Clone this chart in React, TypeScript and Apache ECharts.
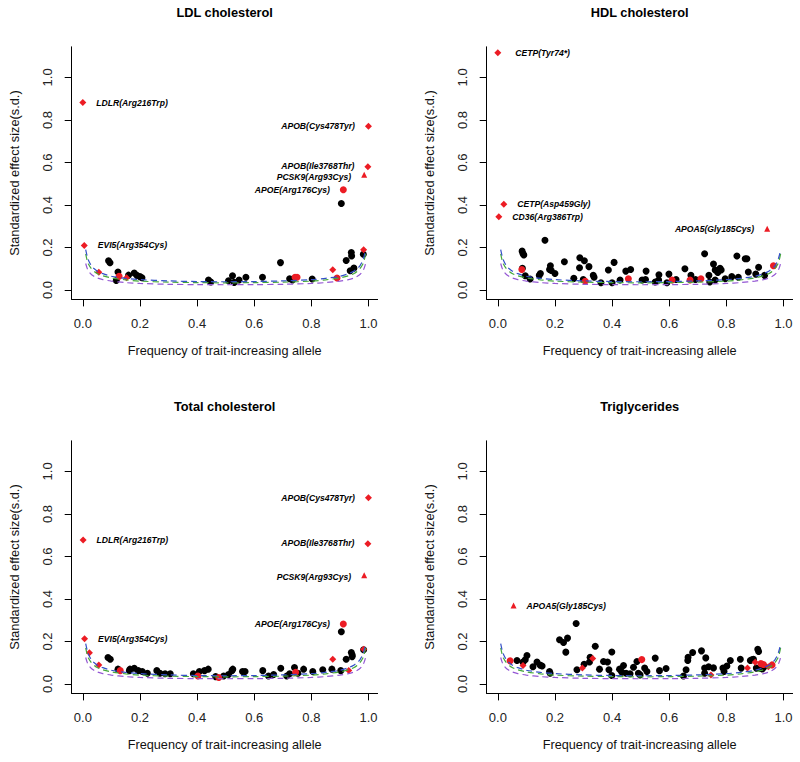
import React, { useEffect, useRef } from "react";
import * as echarts from "echarts";

const FONT = '"Liberation Sans", Arial, Helvetica, sans-serif';
const RED = "#ec1c24";

const PANEL_TITLES = ["LDL cholesterol", "HDL cholesterol", "Total cholesterol", "Triglycerides"];
const X_TITLE = "Frequency of trait-increasing allele";
const Y_TITLE = "Standardized effect size(s.d.)";
const X_TICKS = [0, 0.2, 0.4, 0.6, 0.8, 1.0];
const Y_TICKS = [0, 0.2, 0.4, 0.6, 0.8, 1.0];

// Power curves (dashed)
const CURVE_P = [0.01, 0.015, 0.02, 0.03, 0.04, 0.05, 0.07, 0.1, 0.15, 0.2, 0.3, 0.4, 0.5, 0.6, 0.7, 0.8, 0.85, 0.9, 0.93, 0.95, 0.96, 0.97, 0.98, 0.985, 0.99];
const CURVE_BLUE = [0.19, 0.16, 0.139, 0.114, 0.1, 0.09, 0.077, 0.065, 0.055, 0.049, 0.043, 0.04, 0.039, 0.04, 0.043, 0.049, 0.055, 0.065, 0.077, 0.09, 0.1, 0.114, 0.139, 0.16, 0.19];
const CURVE_GREEN = [0.17, 0.14, 0.121, 0.1, 0.087, 0.078, 0.067, 0.057, 0.048, 0.042, 0.037, 0.035, 0.034, 0.035, 0.037, 0.042, 0.048, 0.057, 0.067, 0.078, 0.087, 0.1, 0.121, 0.14, 0.17];
const CURVE_PURPLE = [0.125, 0.103, 0.089, 0.073, 0.064, 0.057, 0.049, 0.042, 0.035, 0.031, 0.027, 0.0255, 0.025, 0.0255, 0.027, 0.031, 0.035, 0.042, 0.049, 0.057, 0.064, 0.073, 0.089, 0.103, 0.125];

// ---- LDL cholesterol ----
const LDL_BLACK = [
  [0.09, 0.138], [0.095, 0.128], [0.117, 0.045], [0.123, 0.085], [0.16, 0.07], [0.18, 0.08], [0.189, 0.069],
  [0.2, 0.063], [0.207, 0.058], [0.44, 0.047], [0.448, 0.038], [0.51, 0.044], [0.524, 0.067], [0.53, 0.036],
  [0.547, 0.047], [0.571, 0.06], [0.629, 0.06], [0.692, 0.129], [0.724, 0.053], [0.734, 0.047], [0.803, 0.052],
  [0.905, 0.407], [0.922, 0.139], [0.936, 0.091], [0.94, 0.176], [0.941, 0.16], [0.949, 0.103], [0.982, 0.168],
];
const LDL_RED_DIAMOND = [
  [0.0, 0.882, "LDLR(Arg216Trp)"], [1.0, 0.77, "APOB(Cys478Tyr)"], [0.998, 0.58, "APOB(Ile3768Thr)"],
  [0.005, 0.21, "EVI5(Arg354Cys)"], [0.056, 0.084], [0.153, 0.058], [0.875, 0.096], [0.983, 0.19],
];
const LDL_RED_CIRCLE = [[0.912, 0.472, "APOE(Arg176Cys)"], [0.127, 0.065], [0.743, 0.06], [0.75, 0.06], [0.89, 0.057]];
const LDL_RED_TRIANGLE = [[0.985, 0.542, "PCSK9(Arg93Cys)"]];

// ---- HDL cholesterol ----
const HDL_BLACK = [
  [0.085, 0.183], [0.088, 0.172], [0.091, 0.165], [0.086, 0.102], [0.096, 0.067], [0.113, 0.052], [0.145, 0.069],
  [0.149, 0.078], [0.165, 0.234], [0.181, 0.097], [0.184, 0.114], [0.187, 0.092], [0.2, 0.078], [0.233, 0.133],
  [0.266, 0.055], [0.287, 0.152], [0.286, 0.105], [0.303, 0.138], [0.299, 0.05], [0.319, 0.11], [0.334, 0.069],
  [0.337, 0.06], [0.361, 0.034], [0.387, 0.094], [0.4, 0.034], [0.407, 0.13], [0.428, 0.047], [0.448, 0.089],
  [0.465, 0.097], [0.505, 0.047], [0.519, 0.089], [0.517, 0.05], [0.551, 0.038], [0.564, 0.072], [0.563, 0.047],
  [0.592, 0.034], [0.599, 0.075], [0.624, 0.05], [0.655, 0.1], [0.676, 0.069], [0.692, 0.05], [0.724, 0.171],
  [0.739, 0.069], [0.742, 0.038], [0.755, 0.122], [0.761, 0.094], [0.761, 0.047], [0.77, 0.083], [0.778, 0.102],
  [0.782, 0.094], [0.796, 0.053], [0.819, 0.063], [0.837, 0.16], [0.842, 0.06], [0.866, 0.147], [0.872, 0.147],
  [0.877, 0.085], [0.903, 0.075], [0.913, 0.107], [0.934, 0.069],
];
const HDL_RED_DIAMOND = [[0.0, 1.116, "CETP(Tyr74*)"], [0.021, 0.404, "CETP(Asp459Gly)"], [0.0035, 0.345, "CD36(Arg386Trp)"]];
const HDL_RED_CIRCLE = [[0.084, 0.097], [0.306, 0.041], [0.457, 0.053], [0.61, 0.047], [0.673, 0.047], [0.711, 0.053], [0.965, 0.114]];
const HDL_RED_TRIANGLE = [[0.943, 0.288, "APOA5(Gly185Cys)"]];

// ---- Total cholesterol ----
const TC_BLACK = [
  [0.088, 0.125], [0.096, 0.117], [0.123, 0.07], [0.163, 0.063], [0.165, 0.07], [0.18, 0.074], [0.194, 0.063],
  [0.208, 0.059], [0.226, 0.051], [0.259, 0.063], [0.27, 0.051], [0.288, 0.048], [0.306, 0.048], [0.387, 0.048],
  [0.408, 0.059], [0.426, 0.063], [0.439, 0.07], [0.465, 0.035], [0.493, 0.038], [0.51, 0.045], [0.522, 0.063],
  [0.525, 0.07], [0.559, 0.059], [0.568, 0.059], [0.63, 0.063], [0.65, 0.038], [0.668, 0.045], [0.693, 0.074],
  [0.714, 0.038], [0.724, 0.048], [0.741, 0.078], [0.753, 0.051], [0.773, 0.07], [0.805, 0.059], [0.84, 0.067],
  [0.872, 0.07], [0.903, 0.063], [0.905, 0.246], [0.922, 0.117], [0.94, 0.148], [0.943, 0.137], [0.943, 0.129],
  [0.983, 0.161],
];
const TC_RED_DIAMOND = [
  [1.0, 0.876, "APOB(Cys478Tyr)"], [0.001, 0.677, "LDLR(Arg216Trp)"], [0.998, 0.66, "APOB(Ile3768Thr)"],
  [0.006, 0.213, "EVI5(Arg354Cys)"], [0.023, 0.147], [0.056, 0.089], [0.875, 0.117], [0.931, 0.064], [0.983, 0.164],
];
const TC_RED_CIRCLE = [[0.912, 0.282, "APOE(Arg176Cys)"], [0.131, 0.063], [0.403, 0.038], [0.476, 0.031], [0.745, 0.055]];
const TC_RED_TRIANGLE = [[0.985, 0.512, "PCSK9(Arg93Cys)"]];

// ---- Triglycerides ----
const TG_BLACK = [
  [0.067, 0.111], [0.088, 0.103], [0.096, 0.114], [0.102, 0.134], [0.123, 0.081], [0.137, 0.104], [0.148, 0.089],
  [0.155, 0.085], [0.181, 0.059], [0.183, 0.051], [0.216, 0.208], [0.23, 0.195], [0.244, 0.216], [0.238, 0.15],
  [0.274, 0.285], [0.277, 0.067], [0.302, 0.093], [0.323, 0.126], [0.321, 0.104], [0.341, 0.178], [0.356, 0.07],
  [0.37, 0.106], [0.384, 0.104], [0.389, 0.067], [0.399, 0.151], [0.399, 0.04], [0.426, 0.07], [0.434, 0.056],
  [0.44, 0.087], [0.449, 0.051], [0.463, 0.048], [0.475, 0.079], [0.487, 0.106], [0.492, 0.051], [0.498, 0.043],
  [0.514, 0.075], [0.522, 0.059], [0.551, 0.122], [0.566, 0.063], [0.589, 0.073], [0.65, 0.038], [0.659, 0.067],
  [0.665, 0.111], [0.666, 0.126], [0.682, 0.148], [0.713, 0.156], [0.728, 0.123], [0.724, 0.075], [0.738, 0.081],
  [0.724, 0.051], [0.755, 0.076], [0.788, 0.075], [0.792, 0.059], [0.802, 0.085], [0.814, 0.111], [0.849, 0.117],
  [0.852, 0.075], [0.884, 0.111], [0.889, 0.114], [0.895, 0.117], [0.91, 0.164], [0.913, 0.153], [0.905, 0.075],
  [0.919, 0.075], [0.926, 0.071], [0.933, 0.082],
];
const TG_RED_DIAMOND = [[0.088, 0.087], [0.296, 0.075], [0.332, 0.12], [0.746, 0.043], [0.874, 0.075], [0.901, 0.103], [0.947, 0.081]];
const TG_RED_CIRCLE = [[0.043, 0.109], [0.504, 0.115], [0.921, 0.096], [0.93, 0.092], [0.96, 0.09]];
const TG_RED_TRIANGLE = [[0.055, 0.369, "APOA5(Gly185Cys)"]];

const PANELS = [
  { black: LDL_BLACK, diamond: LDL_RED_DIAMOND, circle: LDL_RED_CIRCLE, triangle: LDL_RED_TRIANGLE },
  { black: HDL_BLACK, diamond: HDL_RED_DIAMOND, circle: HDL_RED_CIRCLE, triangle: HDL_RED_TRIANGLE },
  { black: TC_BLACK, diamond: TC_RED_DIAMOND, circle: TC_RED_CIRCLE, triangle: TC_RED_TRIANGLE },
  { black: TG_BLACK, diamond: TG_RED_DIAMOND, circle: TG_RED_CIRCLE, triangle: TG_RED_TRIANGLE },
];

// layout
const GRID_LEFT = [71.7, 486.7, 71.7, 486.7];
const GRID_TOP = [46.8, 46.8, 440.8, 440.8];
const GRID_W = 305.9;
const GRID_H = 252.6;
const X_MIN = -0.039, X_MAX = 1.032;
const Y_MIN = -0.044, Y_MAX = 1.144;
// small pixel nudges for labels that sit close together
const LABEL_NUDGE: Record<string, [number, number]> = {
  "PCSK9(Arg93Cys)": [0, 2],
  "APOB(Ile3768Thr)": [0, -0.5],
  "CETP(Tyr74*)": [4, 0],
};

function redItems(arr: any[]) {
  return arr.map((d) => {
    const item: any = { value: [d[0], d[1]] };
    if (d[2]) {
      item.name = d[2];
      item.label = {
        show: true,
        position: d[0] > 0.5 ? "left" : "right",
        distance: 10,
        offset: LABEL_NUDGE[d[2]] || [0, 0],
        formatter: d[2],
        fontStyle: "italic",
        fontWeight: "bold",
        fontSize: 8.6,
        lineHeight: 8,
        fontFamily: FONT,
        color: "#000",
      };
    }
    return item;
  });
}

export default function App() {
  const ref = useRef<HTMLDivElement>(null);
  useEffect(() => {
    if (!ref.current) return;
    const chart = echarts.init(ref.current, undefined, { renderer: "svg" });
    const grids = PANELS.map((_, i) => ({ left: GRID_LEFT[i], top: GRID_TOP[i], width: GRID_W, height: GRID_H }));
    const xAxes = PANELS.map((_, i) => ({
      gridIndex: i,
      type: "value",
      min: X_MIN,
      max: X_MAX,
      name: X_TITLE,
      nameLocation: "middle",
      nameGap: 45,
      nameTextStyle: { fontSize: 12.7, color: "#111", fontFamily: FONT },
      axisLine: { show: true, onZero: false, lineStyle: { color: "#000", width: 1 } },
      axisTick: { show: true, length: 7, customValues: X_TICKS, lineStyle: { color: "#000", width: 1 } },
      axisLabel: { customValues: X_TICKS, formatter: (v: number) => v.toFixed(1), margin: 18, fontSize: 13, color: "#222", fontFamily: FONT },
      splitLine: { show: false },
    }));
    const yAxes = PANELS.map((_, i) => ({
      gridIndex: i,
      type: "value",
      min: Y_MIN,
      max: Y_MAX,
      name: Y_TITLE,
      nameLocation: "middle",
      nameGap: 51,
      nameTextStyle: { fontSize: 12.8, color: "#111", fontFamily: FONT },
      axisLine: { show: true, onZero: false, lineStyle: { color: "#000", width: 1 } },
      axisTick: { show: true, length: 7, customValues: Y_TICKS, lineStyle: { color: "#000", width: 1 } },
      axisLabel: { customValues: Y_TICKS, rotate: 90, formatter: (v: number) => v.toFixed(1), margin: 18, fontSize: 13, color: "#222", fontFamily: FONT },
      splitLine: { show: false },
    }));
    const series: any[] = [];
    PANELS.forEach((p, i) => {
      series.push({
        type: "scatter", xAxisIndex: i, yAxisIndex: i, symbol: "circle", symbolSize: 7, z: 2, silent: true,
        itemStyle: { color: "#000", opacity: 1 }, data: p.black,
      });
      series.push({
        type: "scatter", xAxisIndex: i, yAxisIndex: i, symbol: "circle", symbolSize: 7, z: 3, silent: true,
        itemStyle: { color: RED, opacity: 1 }, data: redItems(p.circle),
      });
      series.push({
        type: "scatter", xAxisIndex: i, yAxisIndex: i, symbol: "diamond", symbolSize: 7, z: 3, silent: true,
        itemStyle: { color: RED, opacity: 1 }, data: redItems(p.diamond),
      });
      series.push({
        type: "scatter", xAxisIndex: i, yAxisIndex: i, symbol: "triangle", symbolSize: 6, z: 3, silent: true,
        itemStyle: { color: RED, opacity: 1 }, data: redItems(p.triangle),
      });
      const curves: [number[], string][] = [[CURVE_PURPLE, "#9457d4"], [CURVE_GREEN, "#45a83a"], [CURVE_BLUE, "#3450c8"]];
      curves.forEach(([vals, col]) => {
        series.push({
          type: "line", xAxisIndex: i, yAxisIndex: i, symbol: "none", showSymbol: false, smooth: 0.3, z: 4, silent: true,
          lineStyle: { color: col, width: 1.2, type: [6, 4], opacity: 1 },
          data: CURVE_P.map((x, k) => [x, vals[k]]),
        });
      });
    });
    const graphic = PANEL_TITLES.map((t, i) => ({
      type: "text",
      x: GRID_LEFT[i] + GRID_W / 2,
      y: i < 2 ? 12.7 : 406.7,
      style: {
        text: t,
        align: "center",
        verticalAlign: "middle",
        textAlign: "center",
        textVerticalAlign: "middle",
        fontSize: 12.8,
        fontWeight: "bold",
        fontFamily: FONT,
        fill: "#000",
      },
    }));
    chart.setOption({ animation: false, grid: grids, xAxis: xAxes, yAxis: yAxes, series, graphic });
    return () => chart.dispose();
  }, []);
  return <div ref={ref} style={{ position: "absolute", left: 0, top: 0, width: 800, height: 762, background: "#fff" }} />;
}
